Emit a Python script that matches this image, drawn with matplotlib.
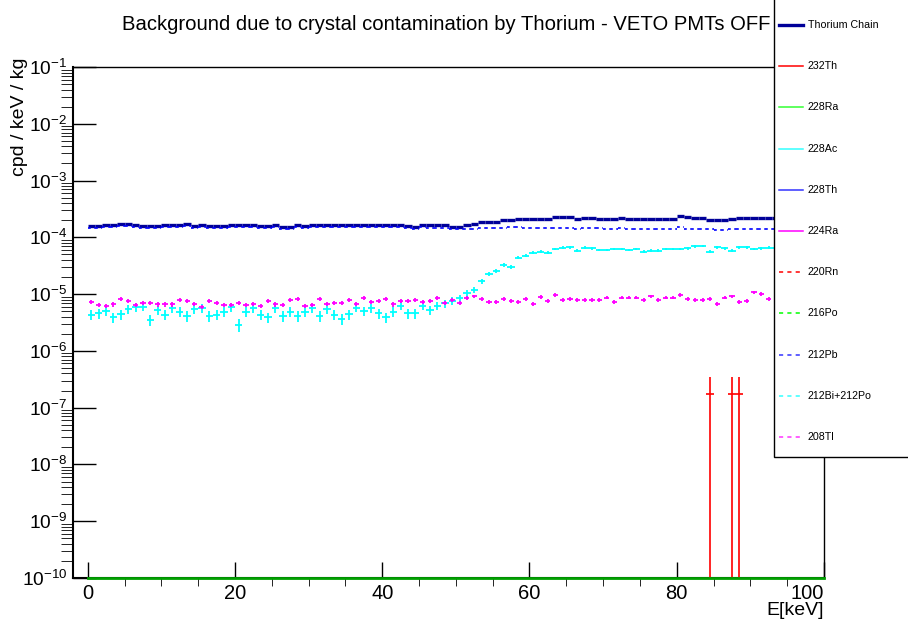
import numpy as np
import matplotlib
matplotlib.use("Agg")
import matplotlib.pyplot as plt
from matplotlib.lines import Line2D
from matplotlib.patches import Rectangle
from matplotlib.ticker import LogLocator, MultipleLocator, NullFormatter, LogFormatterMathtext

plt.rcParams['font.family'] = ['Liberation Sans', 'DejaVu Sans']
plt.rcParams['mathtext.fontset'] = 'custom'
plt.rcParams['mathtext.rm'] = 'Liberation Sans'
plt.rcParams['mathtext.it'] = 'Liberation Sans:italic'
plt.rcParams['lines.scale_dashes'] = False

# 1 keV bins from 0 to 100 keV
bin_edges = np.arange(0, 101)
energy = bin_edges[:-1] + 0.5

# cpd / keV / kg
thorium_chain = np.array([
    1.61, 1.61, 1.63, 1.65, 1.72, 1.72, 1.65, 1.59, 1.59, 1.59,
    1.67, 1.63, 1.63, 1.70, 1.59, 1.65, 1.59, 1.59, 1.61, 1.63,
    1.63, 1.67, 1.63, 1.61, 1.59, 1.63, 1.54, 1.54, 1.65, 1.61,
    1.63, 1.63, 1.63, 1.67, 1.65, 1.63, 1.67, 1.65, 1.63, 1.67,
    1.65, 1.63, 1.67, 1.56, 1.54, 1.65, 1.63, 1.67, 1.63, 1.54,
    1.54, 1.67, 1.70, 1.83, 1.90, 1.90, 1.98, 1.98, 2.08, 2.08,
    2.12, 2.12, 2.12, 2.29, 2.26, 2.24, 2.08, 2.23, 2.23, 2.12,
    2.12, 2.12, 2.20, 2.09, 2.09, 2.09, 2.09, 2.12, 2.09, 2.09,
    2.41, 2.26, 2.17, 2.23, 2.06, 2.04, 2.06, 2.09, 2.17, 2.17,
    2.17, 2.17, 2.17, 2.15, 2.18, 2.12, 2.20, 2.16, 2.14, 2.19]) * 1e-4

pb212 = np.array([
    1.49, 1.49, 1.51, 1.53, 1.60, 1.60, 1.53, 1.47, 1.47, 1.47,
    1.55, 1.51, 1.51, 1.58, 1.47, 1.53, 1.47, 1.47, 1.49, 1.51,
    1.51, 1.55, 1.51, 1.49, 1.47, 1.51, 1.42, 1.42, 1.53, 1.49,
    1.51, 1.51, 1.51, 1.55, 1.53, 1.51, 1.55, 1.53, 1.51, 1.55,
    1.53, 1.51, 1.55, 1.44, 1.42, 1.50, 1.45, 1.45, 1.45, 1.41,
    1.41, 1.43, 1.43, 1.46, 1.47, 1.48, 1.47, 1.50, 1.50, 1.45,
    1.44, 1.45, 1.44, 1.45, 1.47, 1.44, 1.42, 1.44, 1.45, 1.44,
    1.41, 1.43, 1.44, 1.41, 1.41, 1.40, 1.41, 1.39, 1.41, 1.41,
    1.54, 1.41, 1.39, 1.41, 1.40, 1.36, 1.37, 1.40, 1.38, 1.41,
    1.39, 1.40, 1.41, 1.40, 1.40, 1.41, 1.39, 1.40, 1.41, 1.40]) * 1e-4

bi212_po212 = np.array([
    4.3, 4.6, 5.1, 3.9, 4.4, 5.5, 5.9, 6.0, 3.5, 5.3,
    4.3, 5.6, 4.9, 4.1, 5.4, 5.6, 4.1, 4.3, 4.9, 5.9,
    2.9, 4.9, 5.6, 4.3, 3.9, 5.6, 4.1, 4.9, 4.1, 4.9,
    5.6, 4.1, 5.5, 4.3, 3.6, 4.4, 5.8, 5.1, 5.6, 4.6,
    3.9, 4.9, 6.2, 4.6, 4.6, 6.2, 5.3, 6.2, 6.9, 7.7,
    8.5, 10.4, 11.9, 17.1, 22.7, 25.3, 32.7, 30.1, 43.8, 47.1,
    53.8, 56.0, 53.8, 62.5, 66.0, 67.0, 58.0, 66.0, 64.0, 60.0,
    60.0, 62.5, 62.5, 60.0, 62.5, 56.0, 58.0, 58.0, 62.5, 62.5,
    62.5, 64.0, 69.0, 70.6, 56.0, 67.0, 64.0, 58.0, 67.0, 67.0,
    62.0, 64.0, 66.0, 65.0, 63.0, 66.0, 64.0, 62.0, 65.0, 64.0]) * 1e-6

tl208 = np.array([
    7.4, 6.5, 6.2, 6.6, 8.2, 7.6, 6.5, 7.1, 6.9, 6.6,
    6.6, 6.6, 7.9, 7.6, 6.7, 6.0, 7.6, 7.1, 6.5, 6.5,
    7.1, 6.5, 6.7, 6.2, 7.6, 6.6, 6.5, 7.9, 8.1, 6.2,
    6.5, 8.1, 6.7, 6.9, 6.9, 7.9, 6.7, 8.5, 7.4, 7.6,
    8.1, 6.6, 7.6, 7.6, 7.9, 7.4, 7.6, 8.5, 7.1, 7.9,
    7.1, 8.5, 9.1, 8.2, 7.4, 7.4, 8.1, 7.7, 7.2, 8.2,
    6.7, 8.9, 7.7, 9.6, 7.9, 8.2, 7.9, 7.9, 7.9, 7.9,
    8.7, 7.4, 8.7, 8.7, 8.7, 7.9, 9.1, 7.9, 8.7, 8.7,
    9.7, 8.1, 7.9, 7.9, 8.1, 6.7, 8.7, 9.1, 7.2, 7.6,
    10.8, 10.1, 8.2, 8.0, 8.4, 7.8, 8.6, 8.1, 7.7, 8.3]) * 1e-6

# 232Th: only three filled bins (one count each)
th232_energy = [84.5, 87.5, 88.5]
th232_rate = [1.75e-7, 1.75e-7, 1.75e-7]

# isotopes with no entries in the window
ra228 = np.zeros(len(energy))

# rate carried by one simulated count (Poisson errors)
count_weight = 1.75e-7
tl_weight = 5e-8

x_ticks = [0, 20, 40, 60, 80, 100]

legend_entries = ["Thorium Chain", "232Th", "228Ra", "228Ac", "228Th", "224Ra",
                  "220Rn", "216Po", "212Pb", "212Bi+212Po", "208Tl"]
legend_colors = ["#000099", "#ff0000", "#33ff33", "#33ffff", "#3333ff", "#ff00ff",
                 "#ff0000", "#00ff00", "#3333ff", "#33ffff", "#ff33ff"]
legend_styles = ["-", "-", "-", "-", "-", "-", "--", "--", "--", "--", "--"]

y_min, y_max = 1e-10, 1e-1

fig = plt.figure(figsize=(9.08, 6.24), dpi=100)
ax = fig.add_axes([73 / 908, 1 - 578 / 624, 751 / 908, 511 / 624])
ax.set_yscale('log')

# total
ax.errorbar(energy, thorium_chain, xerr=0.5, fmt='none', ecolor='#000099',
            elinewidth=2.4, capsize=0, zorder=3)

# 232Th
th_err = np.sqrt(np.array(th232_rate) * count_weight)
ax.errorbar(th232_energy, th232_rate, xerr=0.5,
            yerr=[np.array(th232_rate) * 0.999999, th_err],
            fmt='none', ecolor='#ff0000', elinewidth=1.2, capsize=0, zorder=4)

# 212Pb, dashed
eb = ax.errorbar(energy, pb212, xerr=0.5, fmt='none', ecolor='#0000ff',
                 elinewidth=1.2, capsize=0, zorder=5)
eb.lines[2][0].set_linestyle((0.8, (2.8, 2.5)))

# 212Bi + 212Po
ax.errorbar(energy, bi212_po212, xerr=0.5, yerr=np.sqrt(bi212_po212 * count_weight),
            fmt='none', ecolor='#00ffff', elinewidth=1.3, capsize=0, zorder=6)

# 208Tl
ax.errorbar(energy, tl208, xerr=0.35, yerr=np.sqrt(tl208 * tl_weight),
            fmt='none', ecolor='#ff00ff', elinewidth=1.3, capsize=0, zorder=7)

# empty histogram sits on the bottom of the log axis
ax.step(bin_edges, np.append(np.maximum(ra228, y_min), y_min), where='post',
        color='#00a000', lw=2.0, clip_on=False, zorder=8)

ax.set_xlim(-2, 100)
ax.set_ylim(y_min, y_max)
ax.yaxis.set_major_locator(LogLocator(base=10, numticks=20))
ax.yaxis.set_minor_locator(LogLocator(base=10, subs=np.arange(2, 10), numticks=20))
ax.yaxis.set_major_formatter(LogFormatterMathtext())
ax.yaxis.set_minor_formatter(NullFormatter())
ax.set_xticks(x_ticks)
ax.set_xticklabels([str(t) for t in x_ticks])
ax.xaxis.set_minor_locator(MultipleLocator(5))
ax.tick_params(direction='in', top=False, right=False, width=1, pad=4)
ax.tick_params(axis='x', labelsize=14.5)
ax.tick_params(axis='y', labelsize=13.8)
ax.tick_params(axis='y', which='major', length=16.5)
ax.tick_params(axis='y', which='minor', length=8.3)
ax.tick_params(axis='x', which='major', length=11.5)
ax.tick_params(axis='x', which='minor', length=5.8)
# last label kept inside the frame, like ROOT does
ax.get_xticklabels()[-1].set_horizontalalignment('right')
ax.get_xticklabels()[-1].set_x(100.2)
for side in ['left', 'bottom']:
    ax.spines[side].set_linewidth(1.5)
for side in ['top', 'right']:
    ax.spines[side].set_linewidth(1.0)

fig.text(446 / 908, 1 - 25 / 624, "Background due to crystal contamination by Thorium - VETO PMTs OFF",
         ha='center', va='center', fontsize=14.6)
fig.text(20 / 908, 1 - 117 / 624, "cpd / keV / kg", rotation=90,
         ha='center', va='center', fontsize=14)
fig.text(824 / 908, 1 - 615 / 624, "E[keV]", ha='right', va='baseline', fontsize=14)

# legend box in the top right corner
fig.add_artist(Rectangle((774 / 908, 1 - 457 / 624), 0.2, 0.8, transform=fig.transFigure,
                         facecolor='white', edgecolor='black', lw=1.0, zorder=10))
for i, name in enumerate(legend_entries):
    yy = 1 - (25 + 41.2 * i) / 624
    lw = 2.4 if i == 0 else 1.1
    ls = (0, (3, 3)) if legend_styles[i] == "--" else "-"
    fig.add_artist(Line2D([779 / 908, 803 / 908], [yy, yy], transform=fig.transFigure,
                          color=legend_colors[i], lw=lw, linestyle=ls, zorder=11))
    fig.text(808 / 908, yy, name, ha='left', va='center', fontsize=7.7, zorder=11)

fig.savefig("out.png", dpi=100)
